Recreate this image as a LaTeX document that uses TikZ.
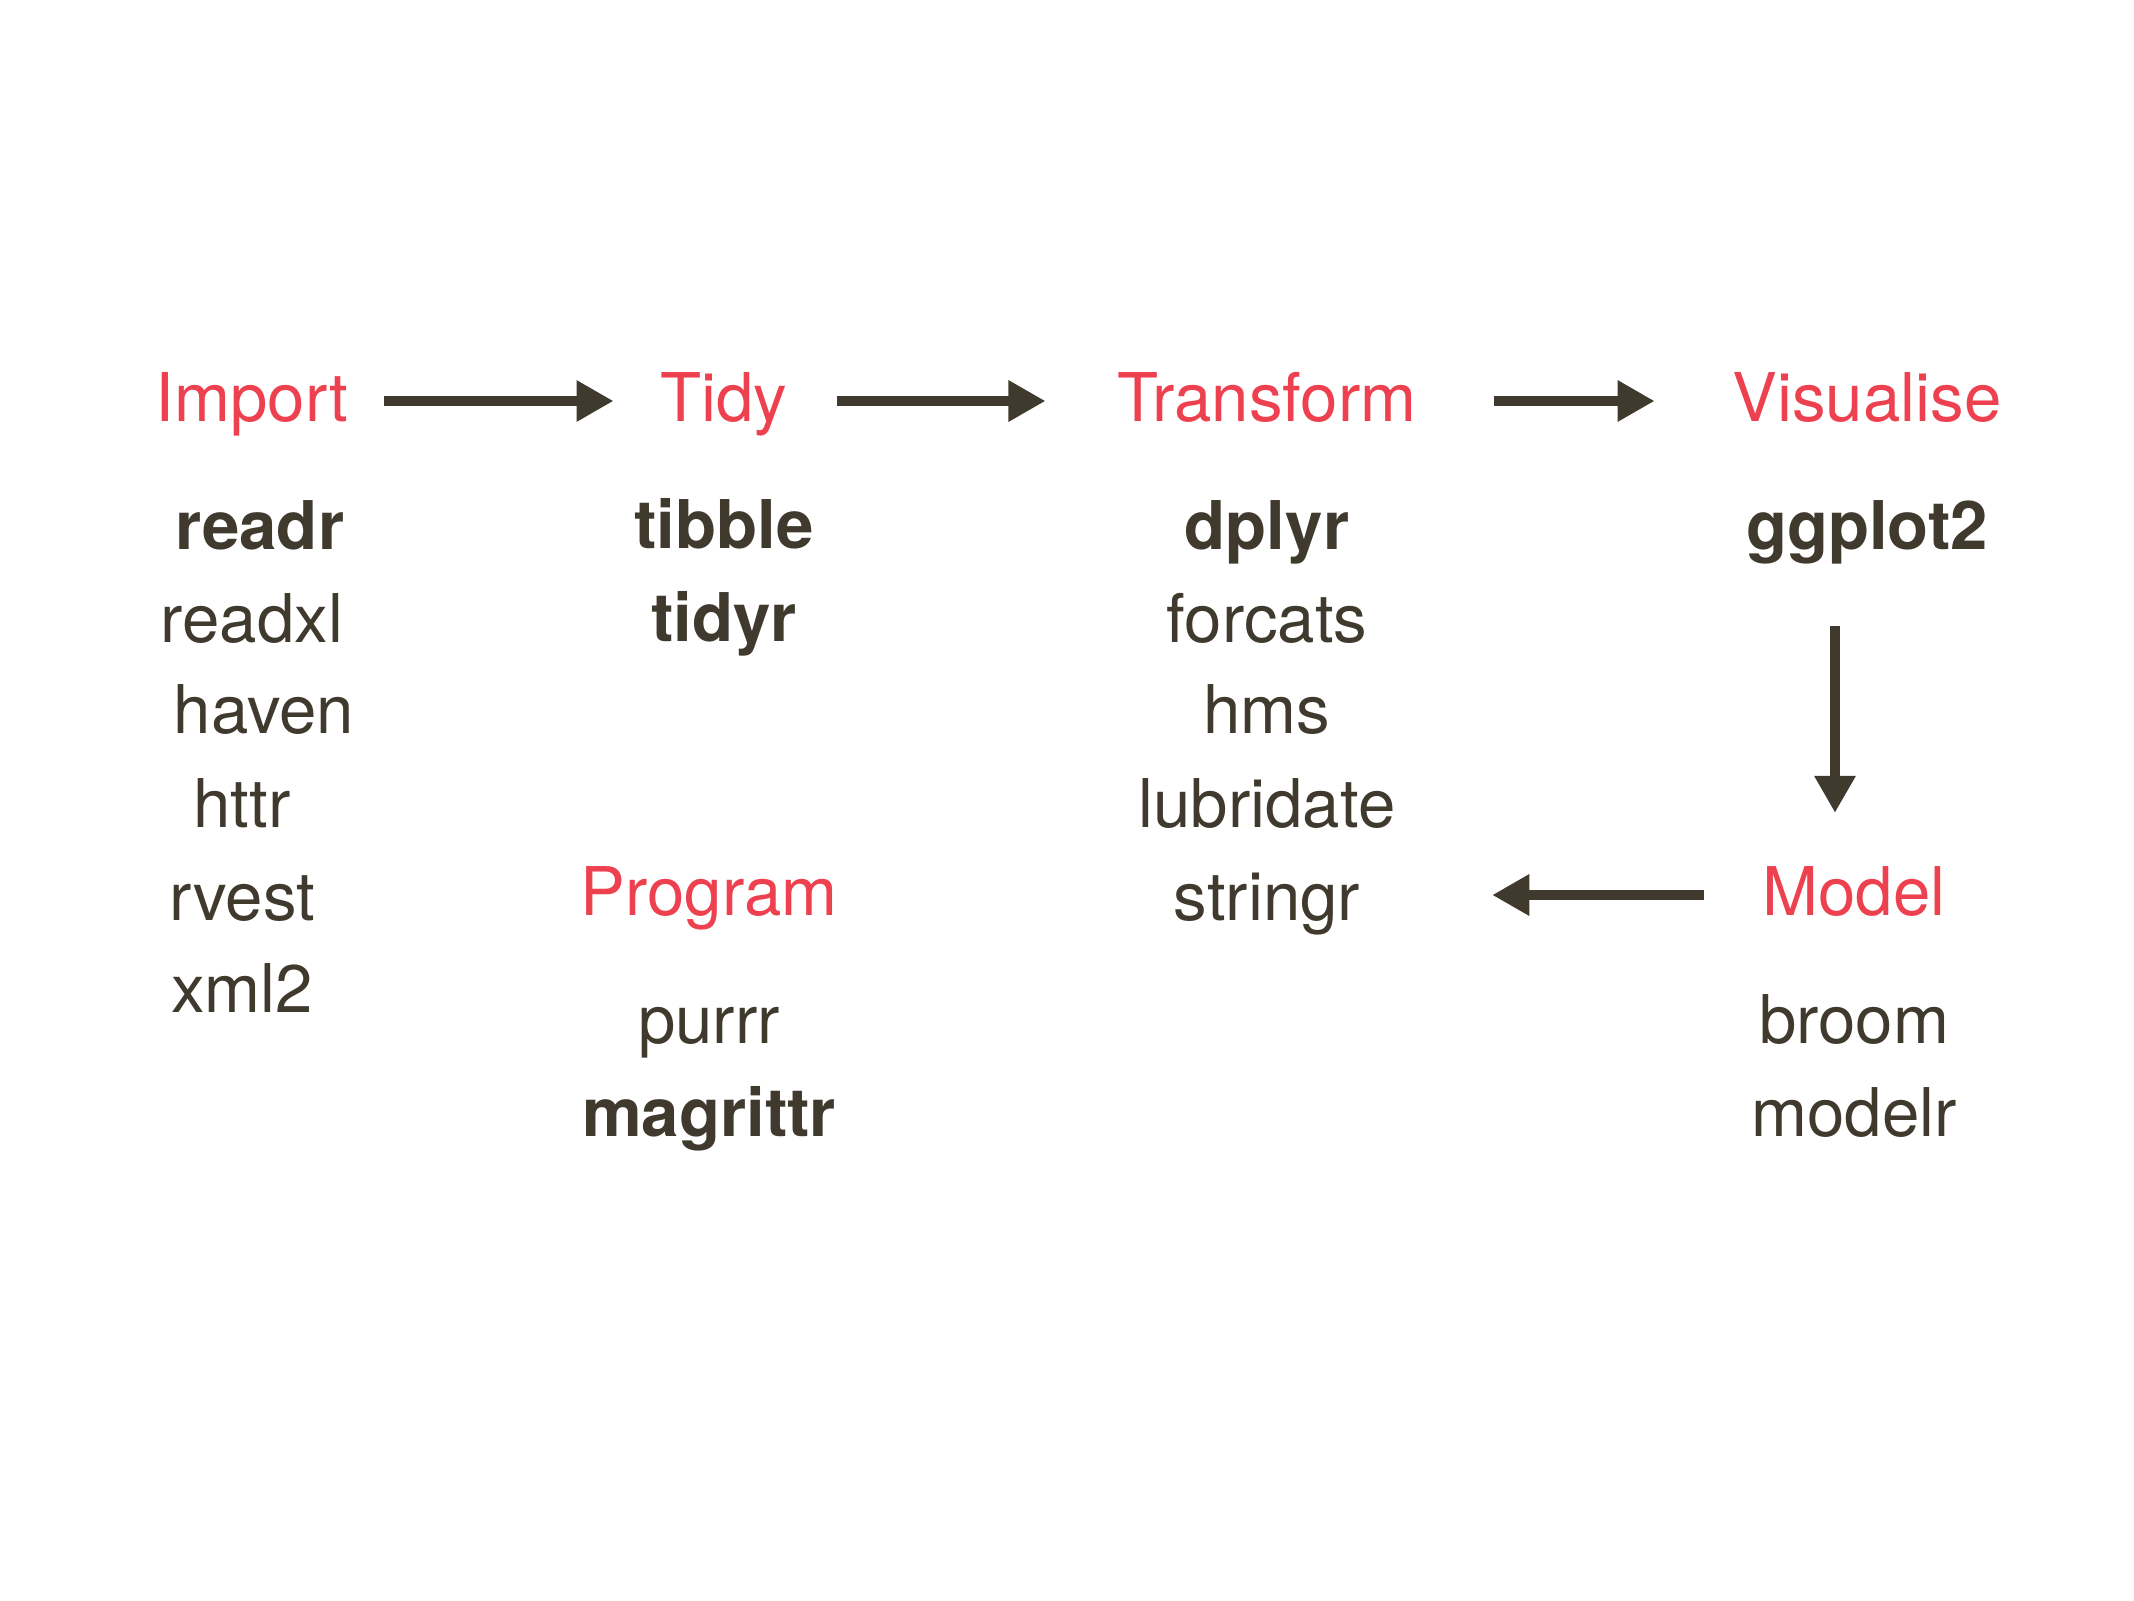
\documentclass[tikz,border=0pt]{standalone}
\usepackage{fontspec}
\setmainfont{TeX Gyre Heros}
\usetikzlibrary{arrows.meta,positioning,calc}
\definecolor{stageRed}{HTML}{EE4150}
\definecolor{pkgInk}{HTML}{403A2E}

\begin{document}
\begin{tikzpicture}[x=0.01cm, y=-0.01cm, >={Triangle[length=0.37cm,width=0.39cm]}, line width=0.1cm]
  \tikzset{
    stage/.style={text=stageRed, font=\fontsize{19.1}{23}\selectfont, inner sep=0pt, text height=13.7pt, text depth=2.3pt},
    pkg/.style={text=pkgInk, font=\fontsize{19.1}{23}\selectfont, inner sep=0pt, anchor=base},
    core/.style={pkg, font=\fontsize{19.1}{23}\selectfont\bfseries},
    flow/.style={->, draw=pkgInk},
  }
  \useasboundingbox (0,0) rectangle (2134,1600);
  % Etapas
  \node[stage] (import) at (252,401) {Import};
  \node[stage] (tidy) at (724,401) {Tidy};
  \node[stage] (transform) at (1267,401) {Transform};
  \node[stage] (visualise) at (1867,401) {Visualise};
  \node[stage] (program) at (709,895) {Program};
  \node[stage] (model) at (1854,895) {Model};
  % Paquetes de importación
  \node[core] (readr) at (260,549) {readr};
  \node[pkg] (readxl) at (252,642) {readxl};
  \node[pkg] (haven) at (264,733) {haven};
  \node[pkg] (httr) at (242,827) {httr};
  \node[pkg] (rvest) at (242,920) {rvest};
  \node[pkg] (xml2) at (242,1012) {xml2};
  % Paquetes de orden
  \node[core] (tibble) at (724,548) {tibble};
  \node[core] (tidyr) at (724,641) {tidyr};
  % Paquetes de transformación
  \node[core] (dplyr) at (1267,549) {dplyr};
  \node[pkg] (forcats) at (1267,642) {forcats};
  \node[pkg] (hms) at (1267,733) {hms};
  \node[pkg] (lubridate) at (1267,827) {lubridate};
  \node[pkg] (stringr) at (1267,920) {stringr};
  % Visualización, programación y modelos
  \node[core] (ggplot) at (1867,549) {ggplot2};
  \node[pkg] (purrr) at (709,1043) {purrr};
  \node[core] (magrittr) at (709,1136) {magrittr};
  \node[pkg] (broom) at (1854,1043) {broom};
  \node[pkg] (modelr) at (1854,1136) {modelr};
  % Flechas del ciclo
  \draw[flow, shorten <=0.31cm, shorten >=0.42cm] (import.east) -- (tidy.west);
  \draw[flow, shorten <=0.45cm, shorten >=0.67cm] (tidy.east) -- (transform.west);
  \draw[flow, shorten <=0.72cm, shorten >=0.73cm] (transform.east) -- (visualise.west);
  \draw[flow, shorten <=0.57cm, shorten >=0.49cm] ([xshift=-0.32cm]ggplot.south) -- ([xshift=-0.32cm]ggplot.south |- model.north);
  \draw[flow, shorten <=0.54cm, shorten >=1.27cm] (model.west) -- (model.west -| stringr.east);
\end{tikzpicture}
\end{document}
